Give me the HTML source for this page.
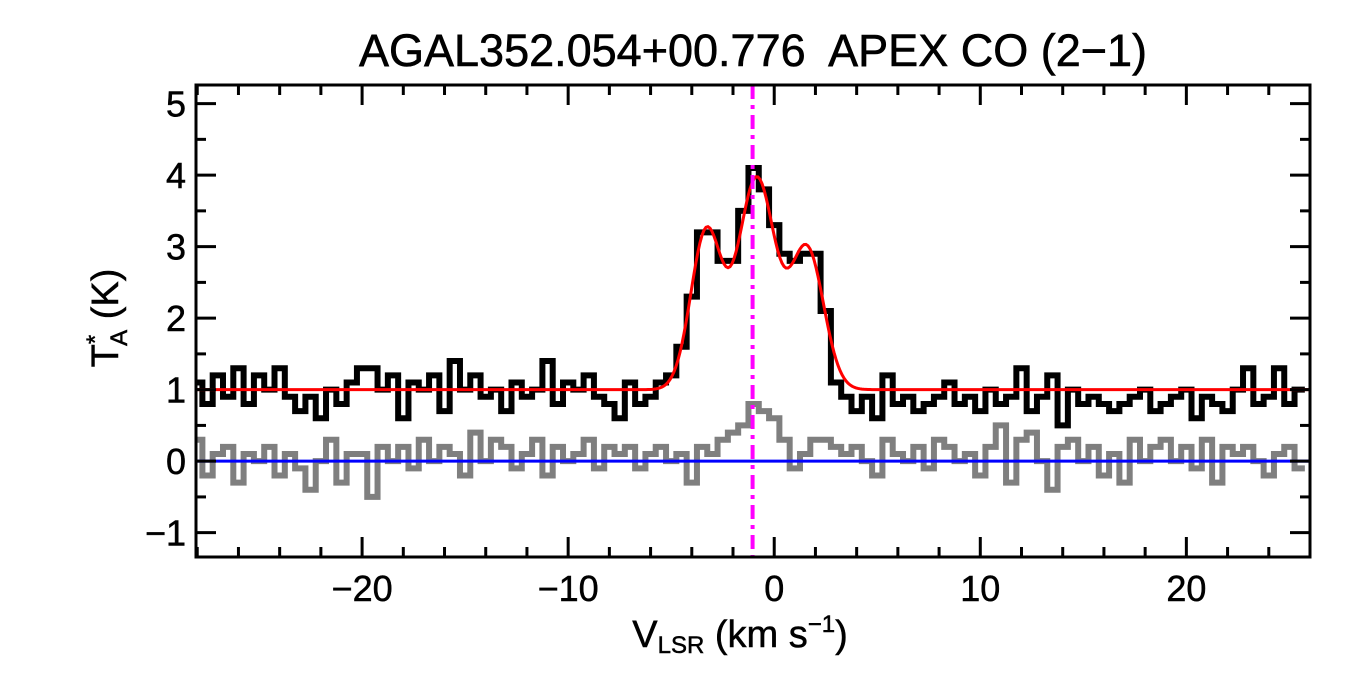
<!DOCTYPE html>
<html><head><meta charset="utf-8"><style>
html,body{margin:0;padding:0;background:#fff;}
svg{display:block;font-family:"Liberation Sans",Arial,sans-serif;}
</style></head><body>
<svg id="chart" width="1350" height="675" viewBox="0 0 1350 675" xmlns="http://www.w3.org/2000/svg">
<rect width="1350" height="675" fill="#fff"/>
<text x="753" y="66" font-size="45" text-anchor="middle" stroke="#000" stroke-width="0.6" style="white-space:pre">AGAL352.054+00.776  APEX CO (2−1)</text>
<g id="plot"></g>
<text x="740" y="647" font-size="38" text-anchor="middle" stroke="#000" stroke-width="0.5">V<tspan font-size="24" dy="6">LSR</tspan><tspan dy="-6"> (km s</tspan><tspan font-size="24" dy="-15">−1</tspan><tspan dy="15">)</tspan></text>
<text transform="translate(118,318) rotate(-90)" font-size="38" text-anchor="middle" stroke="#000" stroke-width="0.5">T<tspan font-size="24" dy="-15">*</tspan><tspan font-size="24" dx="-11" dy="24">A</tspan><tspan dy="-9"> (K)</tspan></text>
</svg>
<script>
const xStart = -28, chanWidth = 0.5;
const spectrum = [1.1,0.8,1.2,0.9,1.3,0.8,1.2,1.0,1.3,0.9,0.7,0.9,0.6,1.0,0.8,1.1,1.3,1.3,1.0,1.2,0.6,1.1,1.0,1.2,0.7,1.4,1.0,1.2,0.9,1.0,0.7,1.1,0.9,1.0,1.4,0.8,1.1,1.0,1.2,0.9,0.8,0.6,1.1,0.8,
0.9,1.1,1.2,1.6,2.3,3.2,3.2,2.8,2.8,3.5,4.1,3.8,3.3,2.9,2.8,2.9,2.9,2.1,1.1,0.9,
0.7,0.9,0.6,1.2,0.8,0.9,0.7,0.8,0.9,1.1,0.8,0.9,0.7,1.0,0.8,0.9,1.3,0.7,0.9,1.2,0.5,1.0,0.8,0.9,0.8,0.7,0.8,0.9,1.0,0.7,0.8,0.9,1.0,0.6,0.9,0.8,0.7,1.0,1.3,0.8,0.9,1.3,0.8,1.0];
const residual = [0.3,-0.2,0.1,0.2,-0.3,0.1,0.0,0.2,-0.2,0.1,-0.1,-0.4,0.0,0.3,-0.3,0.1,0.1,-0.5,0.2,0.0,0.2,-0.1,0.3,0.0,0.2,0.1,-0.2,0.4,0.0,0.3,0.2,-0.1,0.1,0.3,-0.2,0.2,0.0,0.1,0.3,-0.1,0.2,0.1,0.2,-0.1,
0.1,0.2,0.0,0.1,-0.3,0.2,0.1,0.3,0.4,0.5,0.8,0.7,0.6,0.3,-0.1,0.1,0.3,0.3,0.2,0.1,
0.2,0.0,-0.2,0.3,0.1,0.0,0.2,-0.1,0.3,0.2,0.0,0.1,-0.2,0.2,0.5,-0.3,0.3,0.4,0.0,-0.4,0.2,0.3,0.0,0.2,-0.2,0.1,-0.3,0.3,0.0,0.2,0.3,0.0,0.2,-0.1,0.3,-0.3,0.2,0.1,0.2,0.0,-0.2,0.1,0.2,-0.1];
const fitBaseline = 1.0;
const fitAmps = [2.2, 2.95, 1.95];
const fitCenters = [-3.3, -0.85, 1.6];
const fitSigmas = [0.75, 0.9, 0.8];
const vlsrMarker = -1.05;
const xTicks = [-20,-10,0,10,20];
const yTicks = [-1,0,1,2,3,4,5];

const L=196,R=1310,T=85,B=557, xMin=-28.06, xMax=26.0, yMin=-1.34, yMax=5.26;
const sx=v=>L+(v-xMin)/(xMax-xMin)*(R-L);
const sy=v=>B-(v-yMin)/(yMax-yMin)*(B-T);
const NS="http://www.w3.org/2000/svg";
const g=document.getElementById('plot');
function mk(tag,attrs){const e=document.createElementNS(NS,tag);for(const k in attrs)e.setAttribute(k,attrs[k]);g.appendChild(e);return e;}
function stepPath(arr){let d="";arr.forEach((v,i)=>{const x0=sx(xStart+i*chanWidth-chanWidth/2),x1=sx(xStart+i*chanWidth+chanWidth/2);const y=sy(v);d+=(i?"L":"M")+Math.max(L,x0)+","+y+"L"+Math.min(R,x1)+","+y;});return d;}
const resP=mk('path',{d:stepPath(residual),fill:'none',stroke:'#7f7f7f','stroke-width':6});


const specP=mk('path',{d:stepPath(spectrum),fill:'none',stroke:'#000','stroke-width':6});


const zl=mk('line',{x1:L,x2:R,y1:sy(0),y2:sy(0),stroke:'#0000ff','stroke-width':3});


let fd="";for(let px=L;px<=R;px+=2){const v=xMin+(px-L)/(R-L)*(xMax-xMin);let y=fitBaseline;for(let k=0;k<fitAmps.length;k++)y+=fitAmps[k]*Math.exp(-0.5*((v-fitCenters[k])/fitSigmas[k])**2);fd+=(px===L?"M":"L")+px+","+sy(y);}
const fit=mk('path',{d:fd,fill:'none',stroke:'#ff0000','stroke-width':3});


const vm=mk('line',{x1:sx(vlsrMarker),x2:sx(vlsrMarker),y1:T,y2:B,stroke:'#ff00ff','stroke-width':4,'stroke-dasharray':'14,6,4,6'});


for(let v=-28;v<=26;v+=2){const x=sx(v);const major=v%10===0;const len=major?20:10;
 mk('line',{x1:x,x2:x,y1:B,y2:B-len,stroke:'#000','stroke-width':3});
 mk('line',{x1:x,x2:x,y1:T,y2:T+len,stroke:'#000','stroke-width':3});}
for(let v=-1;v<=5;v+=0.5){const y=sy(v);const major=Number.isInteger(v);const len=major?20:10;
 mk('line',{x1:L,x2:L+len,y1:y,y2:y,stroke:'#000','stroke-width':3});
 mk('line',{x1:R,x2:R-len,y1:y,y2:y,stroke:'#000','stroke-width':3});}
xTicks.forEach(v=>{const t=mk('text',{x:sx(v),y:B+44,'font-size':36,'text-anchor':'middle',stroke:'#000','stroke-width':0.5});t.textContent=v<0?'−'+(-v):String(v);
 
 });
yTicks.forEach(v=>{const t=mk('text',{x:L-10,y:sy(v)+13,'font-size':36,'text-anchor':'end',stroke:'#000','stroke-width':0.5});t.textContent=v<0?'−'+(-v):String(v);
 
 });
const fr=mk('rect',{x:L,y:T,width:R-L,height:B-T,fill:'none',stroke:'#000','stroke-width':3});


</script>
</body></html>
